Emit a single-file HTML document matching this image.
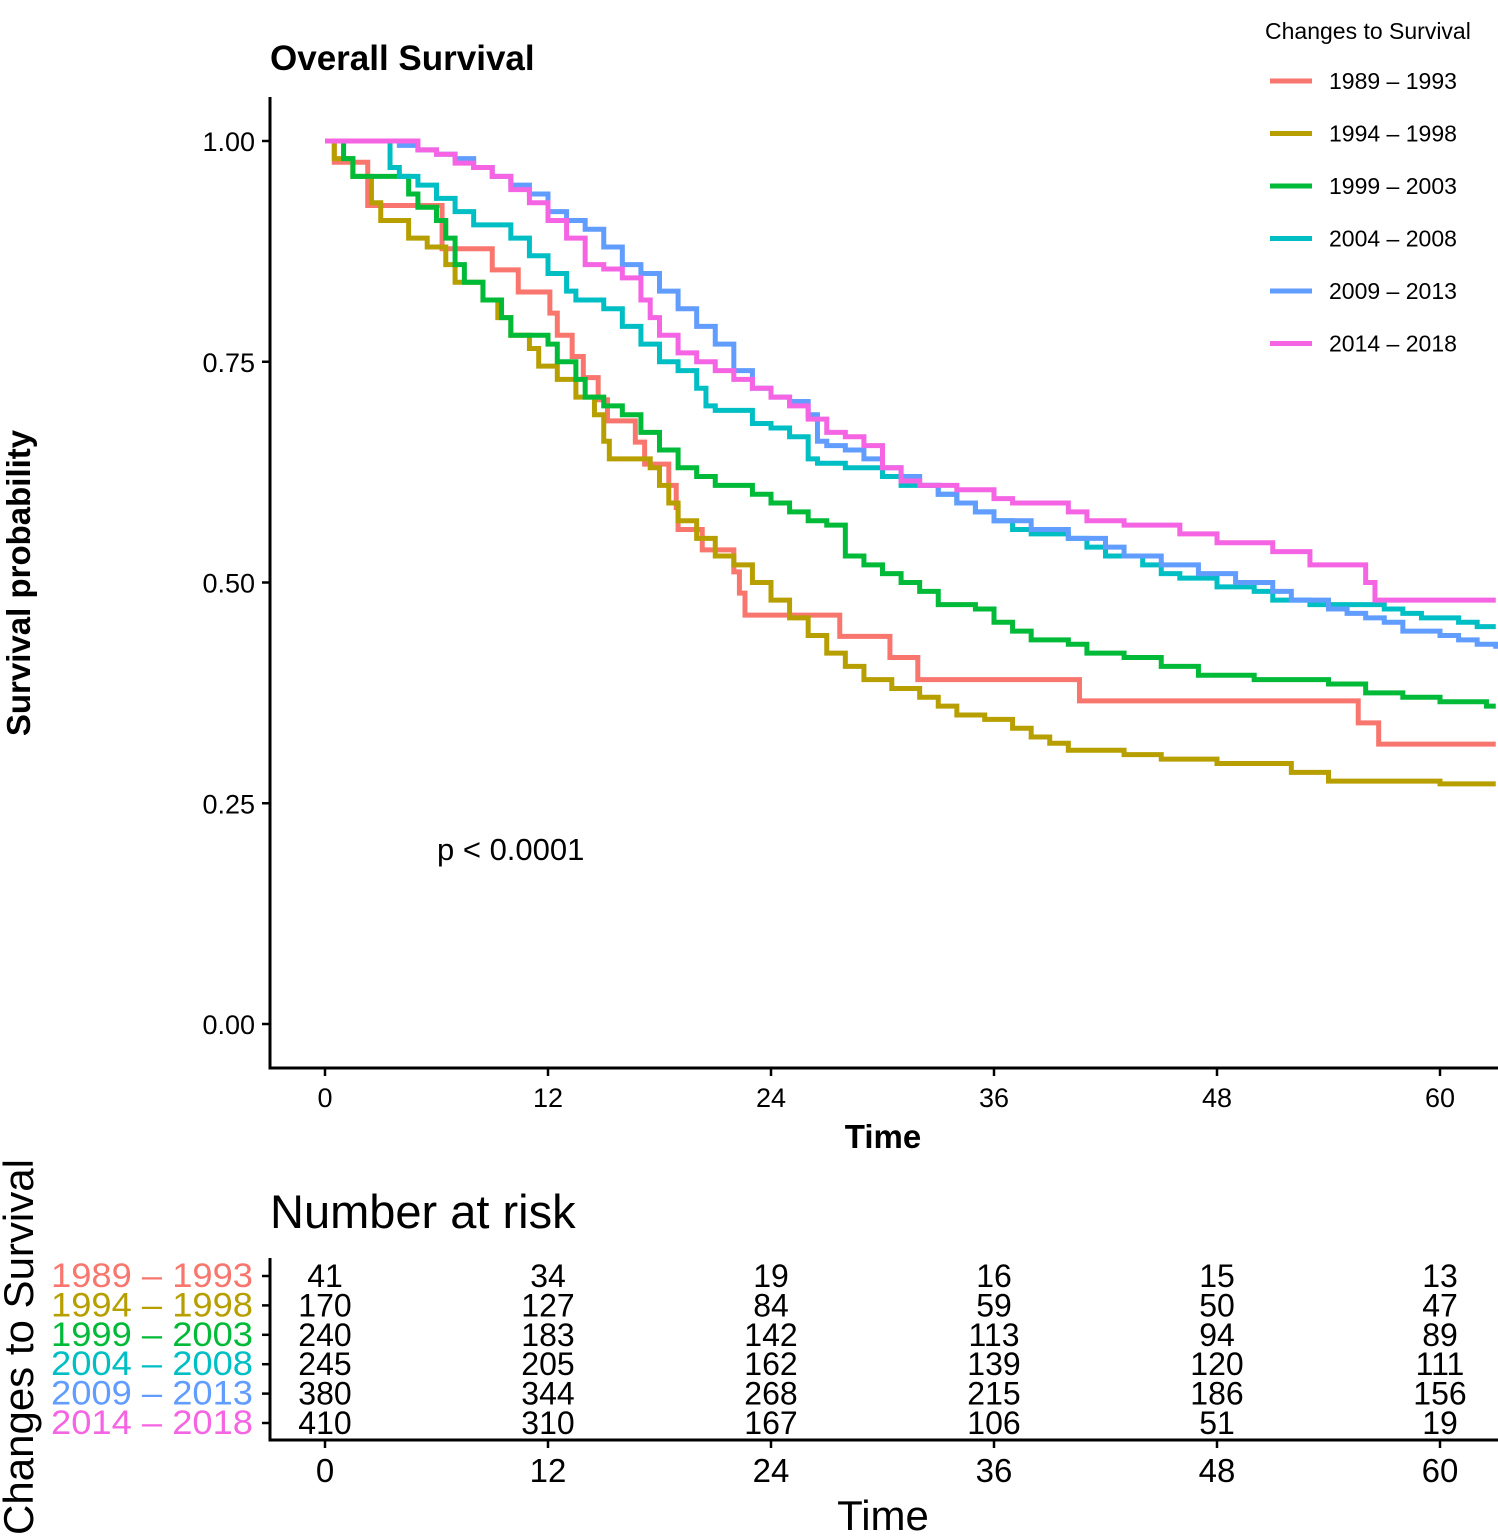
<!DOCTYPE html>
<html><head><meta charset="utf-8"><style>
body{margin:0;background:#fff}
svg{display:block;font-family:"Liberation Sans",Arial,sans-serif}
</style></head><body>
<svg id="c" width="1498" height="1537" viewBox="0 0 1498 1537">
<text x="270" y="70" font-size="35" font-weight="bold">Overall Survival</text>
<text transform="translate(30,583) rotate(-90)" text-anchor="middle" font-size="33" font-weight="bold">Survival probability</text>
<text x="883" y="1148" text-anchor="middle" font-size="33" font-weight="bold">Time</text>
<text x="437" y="860" font-size="31">p &lt; 0.0001</text>
<defs><clipPath id="cp"><rect x="270" y="90" width="1228" height="980"/></clipPath></defs>
<g id="curves" clip-path="url(#cp)"></g>
<g id="axes"></g>
<text x="1265" y="39" font-size="23">Changes to Survival</text>
<g id="legend"></g>
<text x="270" y="1228" font-size="47">Number at risk</text>
<text transform="translate(33,1347) rotate(-90)" text-anchor="middle" font-size="42">Changes to Survival</text>
<text x="883" y="1530" text-anchor="middle" font-size="42">Time</text>
<g id="risk"></g>
</svg>
<script>
const groups=["1989 – 1993","1994 – 1998","1999 – 2003","2004 – 2008","2009 – 2013","2014 – 2018"];
const colors=["#F8766D","#B79F00","#00BA38","#00BFC4","#619CFF","#F564E3"];
const xTicks=[0,12,24,36,48,60];
const yTicks=[0,0.25,0.5,0.75,1];
const yLabels=["0.00","0.25","0.50","0.75","1.00"];
const t1=[0,0.5,2.3,6.3,9,10.4,12.1,12.5,13.3,13.9,14.7,15.2,16.7,17.2,18.5,18.9,19,20.3,22,22.3,22.6,27.7,30.4,31.9,40.6,55.6,56.7,63];
const s1=[1,0.976,0.927,0.878,0.854,0.829,0.805,0.78,0.756,0.732,0.707,0.683,0.659,0.634,0.61,0.585,0.56,0.537,0.512,0.488,0.463,0.439,0.415,0.39,0.366,0.341,0.317,0.317];
const t2=[0,0.5,1.5,2.5,3,4.5,5.5,6.5,7,8.5,9.3,10,11,11.5,12.5,13.5,14.5,15,15.3,17.5,18,18.5,19,20,21,22,23,24,25,26,27,28,29,30.5,32,33,34,35.5,37,38,39,40,43,45,48,52,54,60,63];
const s2=[1,0.98,0.96,0.93,0.91,0.89,0.88,0.86,0.84,0.82,0.80,0.78,0.765,0.745,0.73,0.71,0.69,0.66,0.64,0.63,0.61,0.59,0.57,0.55,0.53,0.52,0.50,0.48,0.46,0.44,0.42,0.405,0.39,0.38,0.37,0.36,0.35,0.345,0.335,0.325,0.318,0.31,0.305,0.30,0.295,0.285,0.275,0.272,0.272];
const t3=[0,1,1.5,4.5,5,6,6.5,7,7.5,8.5,9.5,10,12,12.5,13.5,14,15,16,17,18,19,20,21,23,24,25,26,27,28,29,30,31,32,33,35,36,37,38,40,41,43,45,47,50,54,56,58,60,62.5,63];
const s3=[1,0.98,0.96,0.94,0.925,0.91,0.89,0.86,0.84,0.82,0.80,0.78,0.77,0.75,0.73,0.71,0.70,0.69,0.67,0.65,0.63,0.62,0.61,0.60,0.59,0.58,0.57,0.565,0.53,0.52,0.51,0.50,0.49,0.475,0.47,0.455,0.445,0.435,0.43,0.42,0.415,0.405,0.395,0.39,0.385,0.375,0.37,0.365,0.36,0.36];
const t4=[0,3.5,4,5,6,7,8,10,11,12,13,13.5,15,16,17,18,19,20,20.5,21,23,24,25,26,26.5,28,30,31,33,34,35,36,37,38,40,41,42,44,45,46,48,50,51,53,57,58,59,61,62,63];
const s4=[1,0.97,0.96,0.95,0.935,0.92,0.905,0.89,0.87,0.85,0.83,0.82,0.81,0.79,0.77,0.75,0.74,0.72,0.70,0.695,0.68,0.675,0.665,0.64,0.635,0.63,0.62,0.61,0.60,0.59,0.58,0.57,0.56,0.555,0.55,0.54,0.53,0.52,0.51,0.505,0.495,0.49,0.48,0.475,0.47,0.465,0.46,0.455,0.45,0.45];
const t5=[0,4,5,6,7,8,9,10,11,12,13,14,15,16,17,18,19,20,21,22,23,24,25,26,26.5,27,28,29,30,31,32,33,34,35,36,38,40,42,43,45,47,49,51,52,54,55,56,57,58,60,61,62,63];
const s5=[1,0.995,0.99,0.985,0.98,0.97,0.96,0.95,0.94,0.92,0.91,0.90,0.88,0.86,0.85,0.83,0.81,0.79,0.77,0.74,0.72,0.71,0.705,0.69,0.66,0.655,0.65,0.64,0.63,0.62,0.61,0.60,0.59,0.58,0.57,0.56,0.55,0.54,0.53,0.52,0.51,0.50,0.49,0.48,0.47,0.465,0.46,0.455,0.445,0.44,0.435,0.43,0.425];
const t6=[0,5,6,7,8,9,10,11,12,13,14,15,16,17,17.5,18,19,20,21,22,23,24,25,26,27,28,29,30,31,32,34,36,37,40,41,43,46,48,51,53,56,56.5,63];
const s6=[1,0.99,0.985,0.975,0.97,0.96,0.945,0.93,0.91,0.89,0.86,0.855,0.845,0.82,0.80,0.78,0.76,0.75,0.74,0.73,0.72,0.71,0.70,0.685,0.67,0.665,0.655,0.63,0.615,0.61,0.605,0.595,0.59,0.58,0.57,0.565,0.555,0.545,0.535,0.52,0.50,0.48,0.48];
const times=[t1,t2,t3,t4,t5,t6];
const survs=[s1,s2,s3,s4,s5,s6];
const risk1=[41,34,19,16,15,13];
const risk2=[170,127,84,59,50,47];
const risk3=[240,183,142,113,94,89];
const risk4=[245,205,162,139,120,111];
const risk5=[380,344,268,215,186,156];
const risk6=[410,310,167,106,51,19];
const risks=[risk1,risk2,risk3,risk4,risk5,risk6];

const NS="http://www.w3.org/2000/svg";
const X=t=>325+t*(1440-325)/60;
const Y=s=>1024-s*883;
function mk(tag,attrs,parent,txt){const e=document.createElementNS(NS,tag);for(const k in attrs)e.setAttribute(k,attrs[k]);if(txt!==undefined)e.textContent=txt;parent.appendChild(e);return e;}
const curves=document.getElementById('curves');
times.forEach((ts,i)=>{
  const ss=survs[i];let d="M"+X(ts[0])+","+Y(ss[0]);
  for(let j=1;j<ts.length;j++){d+=" H"+X(ts[j])+" V"+Y(ss[j]);}
  const p=mk('path',{d:d,fill:"none",stroke:colors[i],"stroke-width":5},curves);
  
  
});
const ax=document.getElementById('axes');
const a1=mk('path',{d:"M270,97 V1068 H1498",fill:"none",stroke:"#000","stroke-width":3},ax);


yTicks.forEach((v,i)=>{
  mk('line',{x1:262,x2:270,y1:Y(v),y2:Y(v),stroke:"#000","stroke-width":2.5},ax);
  const t=mk('text',{x:255,y:Y(v)+10,"text-anchor":"end","font-size":27},ax,yLabels[i]);
  
  
});
xTicks.forEach(v=>{
  mk('line',{x1:X(v),x2:X(v),y1:1068,y2:1076,stroke:"#000","stroke-width":2.5},ax);
  const t=mk('text',{x:X(v),y:1107,"text-anchor":"middle","font-size":27},ax,String(v));
  
  
});
const lg=document.getElementById('legend');
groups.forEach((g,i)=>{
  const y=81+i*52.5;
  const l=mk('line',{x1:1270,x2:1312,y1:y,y2:y,stroke:colors[i],"stroke-width":5},lg);
  
  
  const t=mk('text',{x:1329,y:y+8,"font-size":23},lg,g);
  
  
});
const rk=document.getElementById('risk');
const a2=mk('path',{d:"M270,1258 V1440 H1498",fill:"none",stroke:"#000","stroke-width":3},rk);


groups.forEach((g,i)=>{
  const y=1276+i*29.4;
  mk('line',{x1:262,x2:270,y1:y,y2:y,stroke:"#000","stroke-width":2.5},rk);
  const t=mk('text',{x:253,y:y+11,"text-anchor":"end","font-size":34,fill:colors[i],"textLength":202,"lengthAdjust":"spacingAndGlyphs"},rk,g);
  
  
  risks[i].forEach((n,j)=>{
    const c=mk('text',{x:X(xTicks[j]),y:y+11,"text-anchor":"middle","font-size":32},rk,String(n));
    
    
  });
});
xTicks.forEach(v=>{
  mk('line',{x1:X(v),x2:X(v),y1:1440,y2:1448,stroke:"#000","stroke-width":2.5},rk);
  const t=mk('text',{x:X(v),y:1482,"text-anchor":"middle","font-size":33},rk,String(v));
  
  
});
</script>
</body></html>
